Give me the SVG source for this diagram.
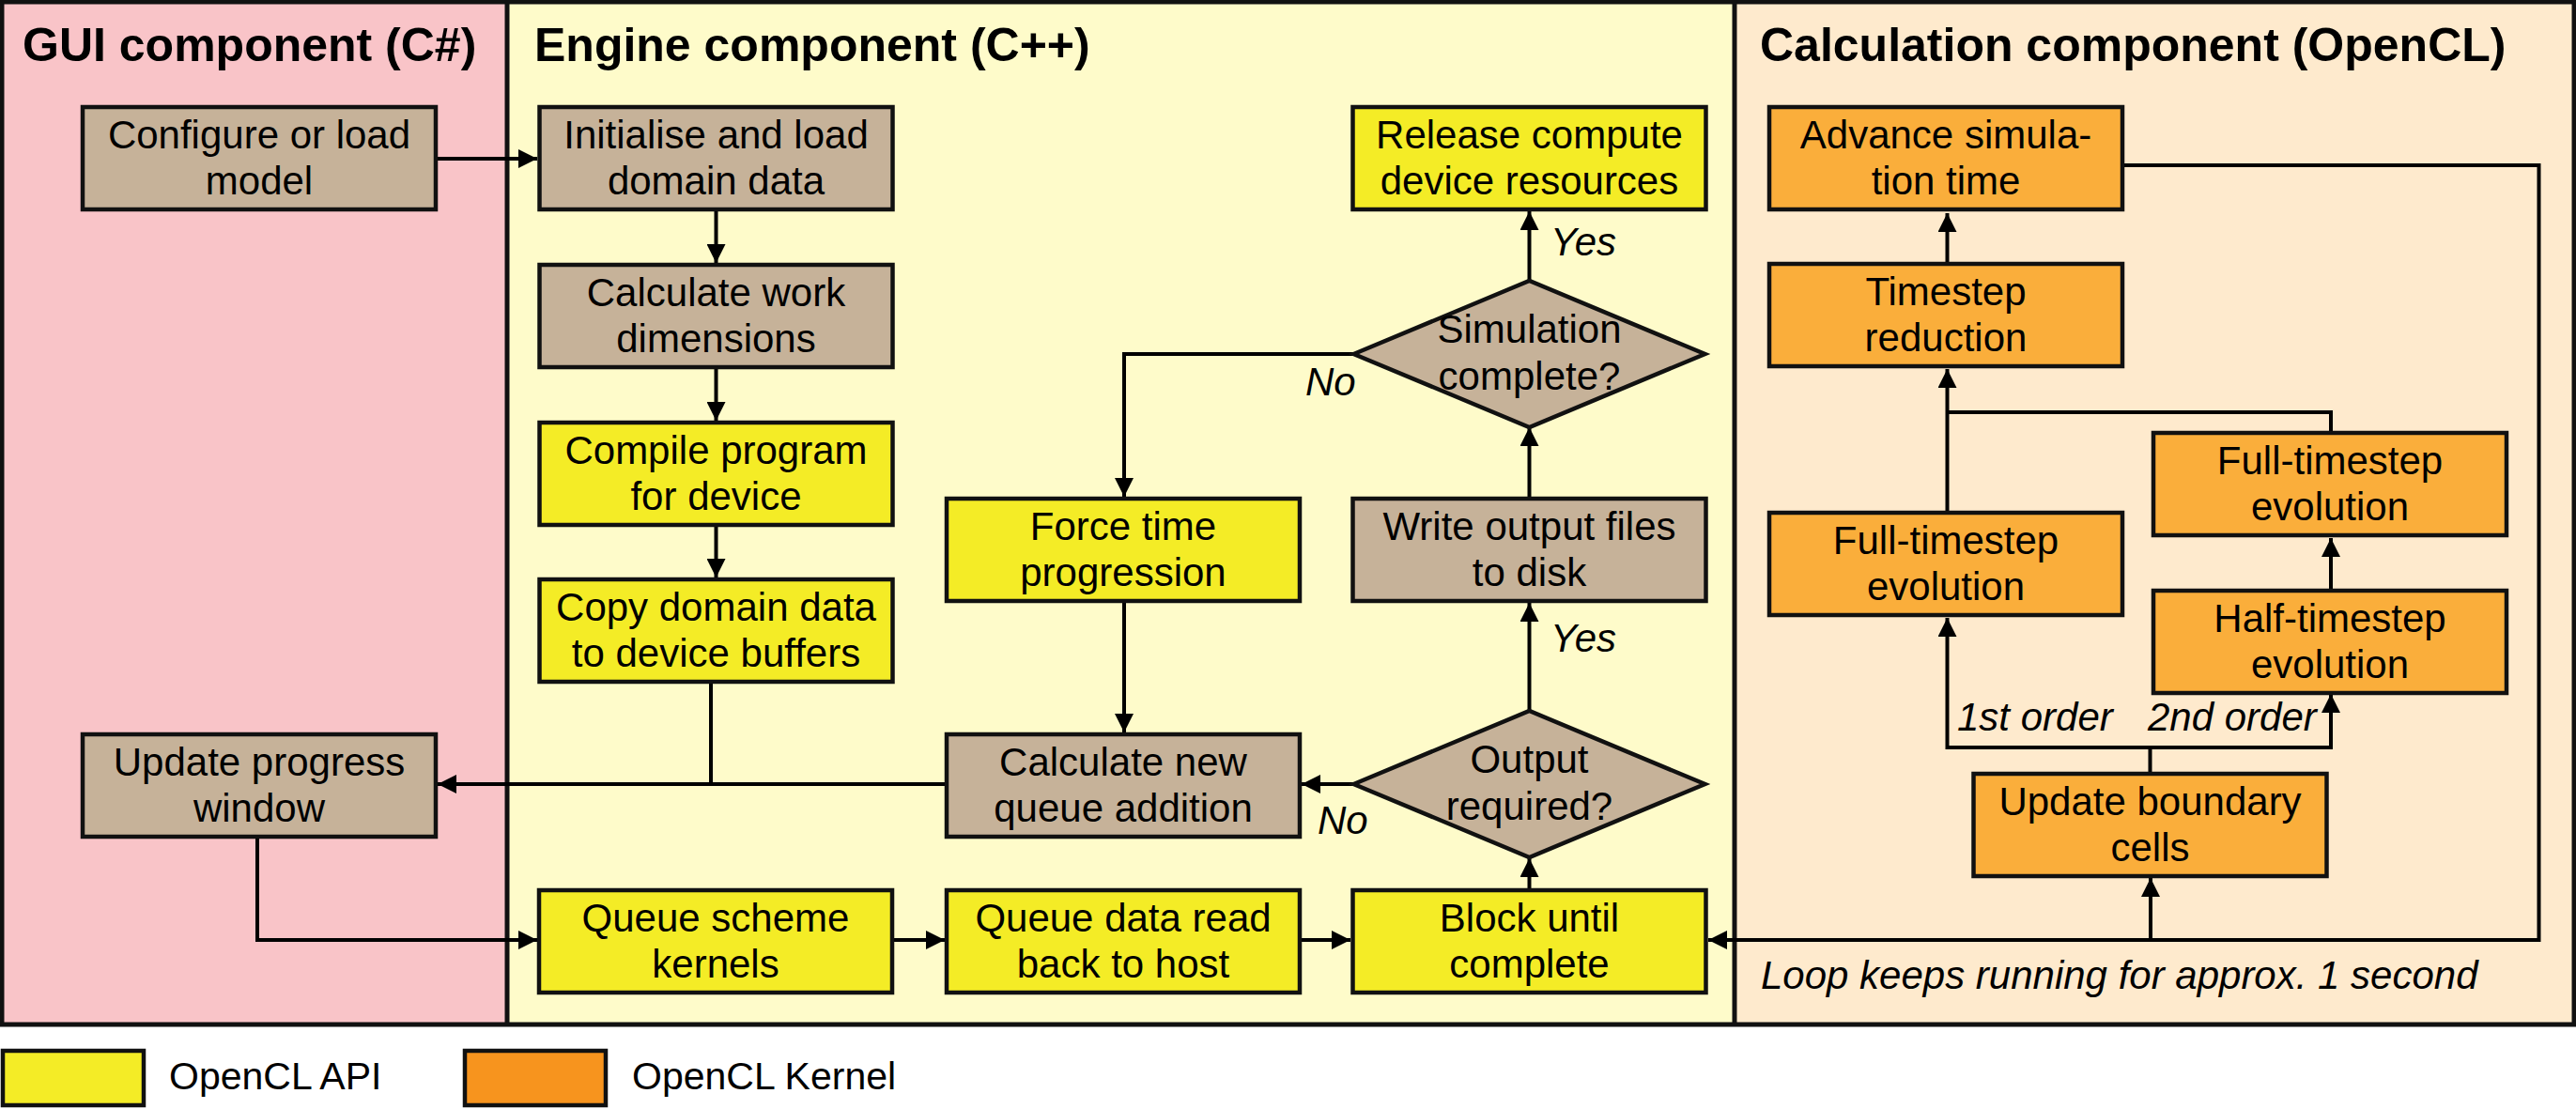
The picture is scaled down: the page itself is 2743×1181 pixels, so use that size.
<svg xmlns="http://www.w3.org/2000/svg" width="2743" height="1181" viewBox="0 0 2743 1181">
<style>
.box{stroke:#111;stroke-width:4.5}
.tan{fill:#C6B299}
.yel{fill:#F4EC26}
.org{fill:#FAAE3B}
.t{font-family:"Liberation Sans",Arial,sans-serif;font-size:42px;fill:#000;text-anchor:middle}
.lbl{font-family:"Liberation Sans",Arial,sans-serif;font-size:42px;font-style:italic;fill:#000}
.title{font-family:"Liberation Sans",Arial,sans-serif;font-size:50px;font-weight:bold;fill:#000}
.leg{font-family:"Liberation Sans",Arial,sans-serif;font-size:41px;fill:#000}
.c{fill:none;stroke:#000;stroke-width:4}
</style>
<defs>
<marker id="ah" markerUnits="userSpaceOnUse" markerWidth="20" markerHeight="20" refX="20" refY="10" orient="auto">
<path d="M0,0 L20,10 L0,20 z" fill="#000"/>
</marker>
</defs>
<rect x="0" y="0" width="2743" height="1181" fill="#fff"/>
<g id="panels">
<rect x="2" y="2" width="538" height="1089" fill="#F9C4C8"/>
<rect x="540" y="2" width="1307" height="1089" fill="#FEFBCA"/>
<rect x="1847" y="2" width="894" height="1089" fill="#FEEACD"/>
<rect x="2" y="2" width="2739" height="1089" fill="none" stroke="#111" stroke-width="5"/>
<line x1="540" y1="2" x2="540" y2="1091" stroke="#111" stroke-width="5"/>
<line x1="1847" y1="2" x2="1847" y2="1091" stroke="#111" stroke-width="5"/>
<text class="title" x="24" y="65">GUI component (C#)</text>
<text class="title" x="569" y="65">Engine component (C++)</text>
<text class="title" x="1874" y="65">Calculation component (OpenCL)</text>
</g>
<g id="connectors">
<path class="c" d="M465,169 H572" marker-end="url(#ah)"/>
<path class="c" d="M762.5,225 V280" marker-end="url(#ah)"/>
<path class="c" d="M762.5,393 V448" marker-end="url(#ah)"/>
<path class="c" d="M762.5,561 V615" marker-end="url(#ah)"/>
<path class="c" d="M757,728 V835"/>
<path class="c" d="M1006,835 H466" marker-end="url(#ah)"/>
<path class="c" d="M274,893 V1001 H572" marker-end="url(#ah)"/>
<path class="c" d="M952,1001 H1006" marker-end="url(#ah)"/>
<path class="c" d="M1386,1001 H1438" marker-end="url(#ah)"/>
<path class="c" d="M1628.5,946 V914" marker-end="url(#ah)"/>
<path class="c" d="M1628.5,757 V642" marker-end="url(#ah)"/>
<path class="c" d="M1441.5,835 H1386" marker-end="url(#ah)"/>
<path class="c" d="M1628.5,529 V455" marker-end="url(#ah)"/>
<path class="c" d="M1628.5,299 V225" marker-end="url(#ah)"/>
<path class="c" d="M1441.5,377 H1197 V529" marker-end="url(#ah)"/>
<path class="c" d="M1197,642 V780" marker-end="url(#ah)"/>
<path class="c" d="M2261,176 H2703.5 V1001 H1819" marker-end="url(#ah)"/>
<path class="c" d="M2290,1001 V935" marker-end="url(#ah)"/>
<path class="c" d="M2289.5,822 V796 H2073.5 V658" marker-end="url(#ah)"/>
<path class="c" d="M2289.5,796 H2482 V739" marker-end="url(#ah)"/>
<path class="c" d="M2482,627 V573" marker-end="url(#ah)"/>
<path class="c" d="M2482,459 V439 H2073.5"/>
<path class="c" d="M2073.5,544 V393" marker-end="url(#ah)"/>
<path class="c" d="M2073.5,279 V227" marker-end="url(#ah)"/>
<text class="lbl" x="1651" y="272">Yes</text>
<text class="lbl" x="1651" y="694">Yes</text>
<text class="lbl" x="1390" y="421">No</text>
<text class="lbl" x="1403" y="888">No</text>
<text class="lbl" x="2084" y="778">1st order</text>
<text class="lbl" x="2287" y="778">2nd order</text>
<text class="lbl" x="1875" y="1053">Loop keeps running for approx. 1 second</text>
</g>
<g id="configure"><rect class="box tan" x="88" y="114" width="376" height="109"/><text class="t" x="276" y="158">Configure or load</text><text class="t" x="276" y="207">model</text></g>
<g id="update-progress"><rect class="box tan" x="88" y="782" width="376" height="109"/><text class="t" x="276" y="826">Update progress</text><text class="t" x="276" y="875">window</text></g>
<g id="initialise"><rect class="box tan" x="574.5" y="114" width="376" height="109"/><text class="t" x="762.5" y="158">Initialise and load</text><text class="t" x="762.5" y="207">domain data</text></g>
<g id="calc-work"><rect class="box tan" x="574.5" y="282" width="376" height="109"/><text class="t" x="762.5" y="326">Calculate work</text><text class="t" x="762.5" y="375">dimensions</text></g>
<g id="compile"><rect class="box yel" x="574.5" y="450" width="376" height="109"/><text class="t" x="762.5" y="494">Compile program</text><text class="t" x="762.5" y="543">for device</text></g>
<g id="copy"><rect class="box yel" x="574.5" y="617" width="376" height="109"/><text class="t" x="762.5" y="661">Copy domain data</text><text class="t" x="762.5" y="710">to device buffers</text></g>
<g id="queue-scheme"><rect class="box yel" x="574" y="948" width="376" height="109"/><text class="t" x="762" y="992">Queue scheme</text><text class="t" x="762" y="1041">kernels</text></g>
<g id="force-time"><rect class="box yel" x="1008" y="531" width="376" height="109"/><text class="t" x="1196" y="575">Force time</text><text class="t" x="1196" y="624">progression</text></g>
<g id="calc-new"><rect class="box tan" x="1008" y="782" width="376" height="109"/><text class="t" x="1196" y="826">Calculate new</text><text class="t" x="1196" y="875">queue addition</text></g>
<g id="queue-data"><rect class="box yel" x="1008" y="948" width="376" height="109"/><text class="t" x="1196" y="992">Queue data read</text><text class="t" x="1196" y="1041">back to host</text></g>
<g id="release"><rect class="box yel" x="1440.5" y="114" width="376" height="109"/><text class="t" x="1628.5" y="158">Release compute</text><text class="t" x="1628.5" y="207">device resources</text></g>
<g id="sim-complete"><polygon class="box tan" points="1441.5,377 1628.5,299 1815.5,377 1628.5,455"/><text class="t" x="1628.5" y="365">Simulation</text><text class="t" x="1628.5" y="415">complete?</text></g>
<g id="write-output"><rect class="box tan" x="1440.5" y="531" width="376" height="109"/><text class="t" x="1628.5" y="575">Write output files</text><text class="t" x="1628.5" y="624">to disk</text></g>
<g id="output-required"><polygon class="box tan" points="1441.5,835 1628.5,757 1815.5,835 1628.5,913"/><text class="t" x="1628.5" y="823">Output</text><text class="t" x="1628.5" y="873">required?</text></g>
<g id="block"><rect class="box yel" x="1440.5" y="948" width="376" height="109"/><text class="t" x="1628.5" y="992">Block until</text><text class="t" x="1628.5" y="1041">complete</text></g>
<g id="advance"><rect class="box org" x="1884" y="114" width="376" height="109"/><text class="t" x="2072" y="158">Advance simula-</text><text class="t" x="2072" y="207">tion time</text></g>
<g id="timestep"><rect class="box org" x="1884" y="281" width="376" height="109"/><text class="t" x="2072" y="325">Timestep</text><text class="t" x="2072" y="374">reduction</text></g>
<g id="full-left"><rect class="box org" x="1884" y="546" width="376" height="109"/><text class="t" x="2072" y="590">Full-timestep</text><text class="t" x="2072" y="639">evolution</text></g>
<g id="full-right"><rect class="box org" x="2293" y="461" width="376" height="109"/><text class="t" x="2481" y="505">Full-timestep</text><text class="t" x="2481" y="554">evolution</text></g>
<g id="half"><rect class="box org" x="2293" y="629" width="376" height="109"/><text class="t" x="2481" y="673">Half-timestep</text><text class="t" x="2481" y="722">evolution</text></g>
<g id="update-boundary"><rect class="box org" x="2101.5" y="824" width="376" height="109"/><text class="t" x="2289.5" y="868">Update boundary</text><text class="t" x="2289.5" y="917">cells</text></g>
<g id="legend">
<rect class="box yel" x="3" y="1119" width="150" height="58"/>
<text class="leg" x="180" y="1160">OpenCL API</text>
<rect x="495" y="1119" width="150" height="58" fill="#F7941E" stroke="#111" stroke-width="4.5"/>
<text class="leg" x="673" y="1160">OpenCL Kernel</text>
</g>
</svg>
